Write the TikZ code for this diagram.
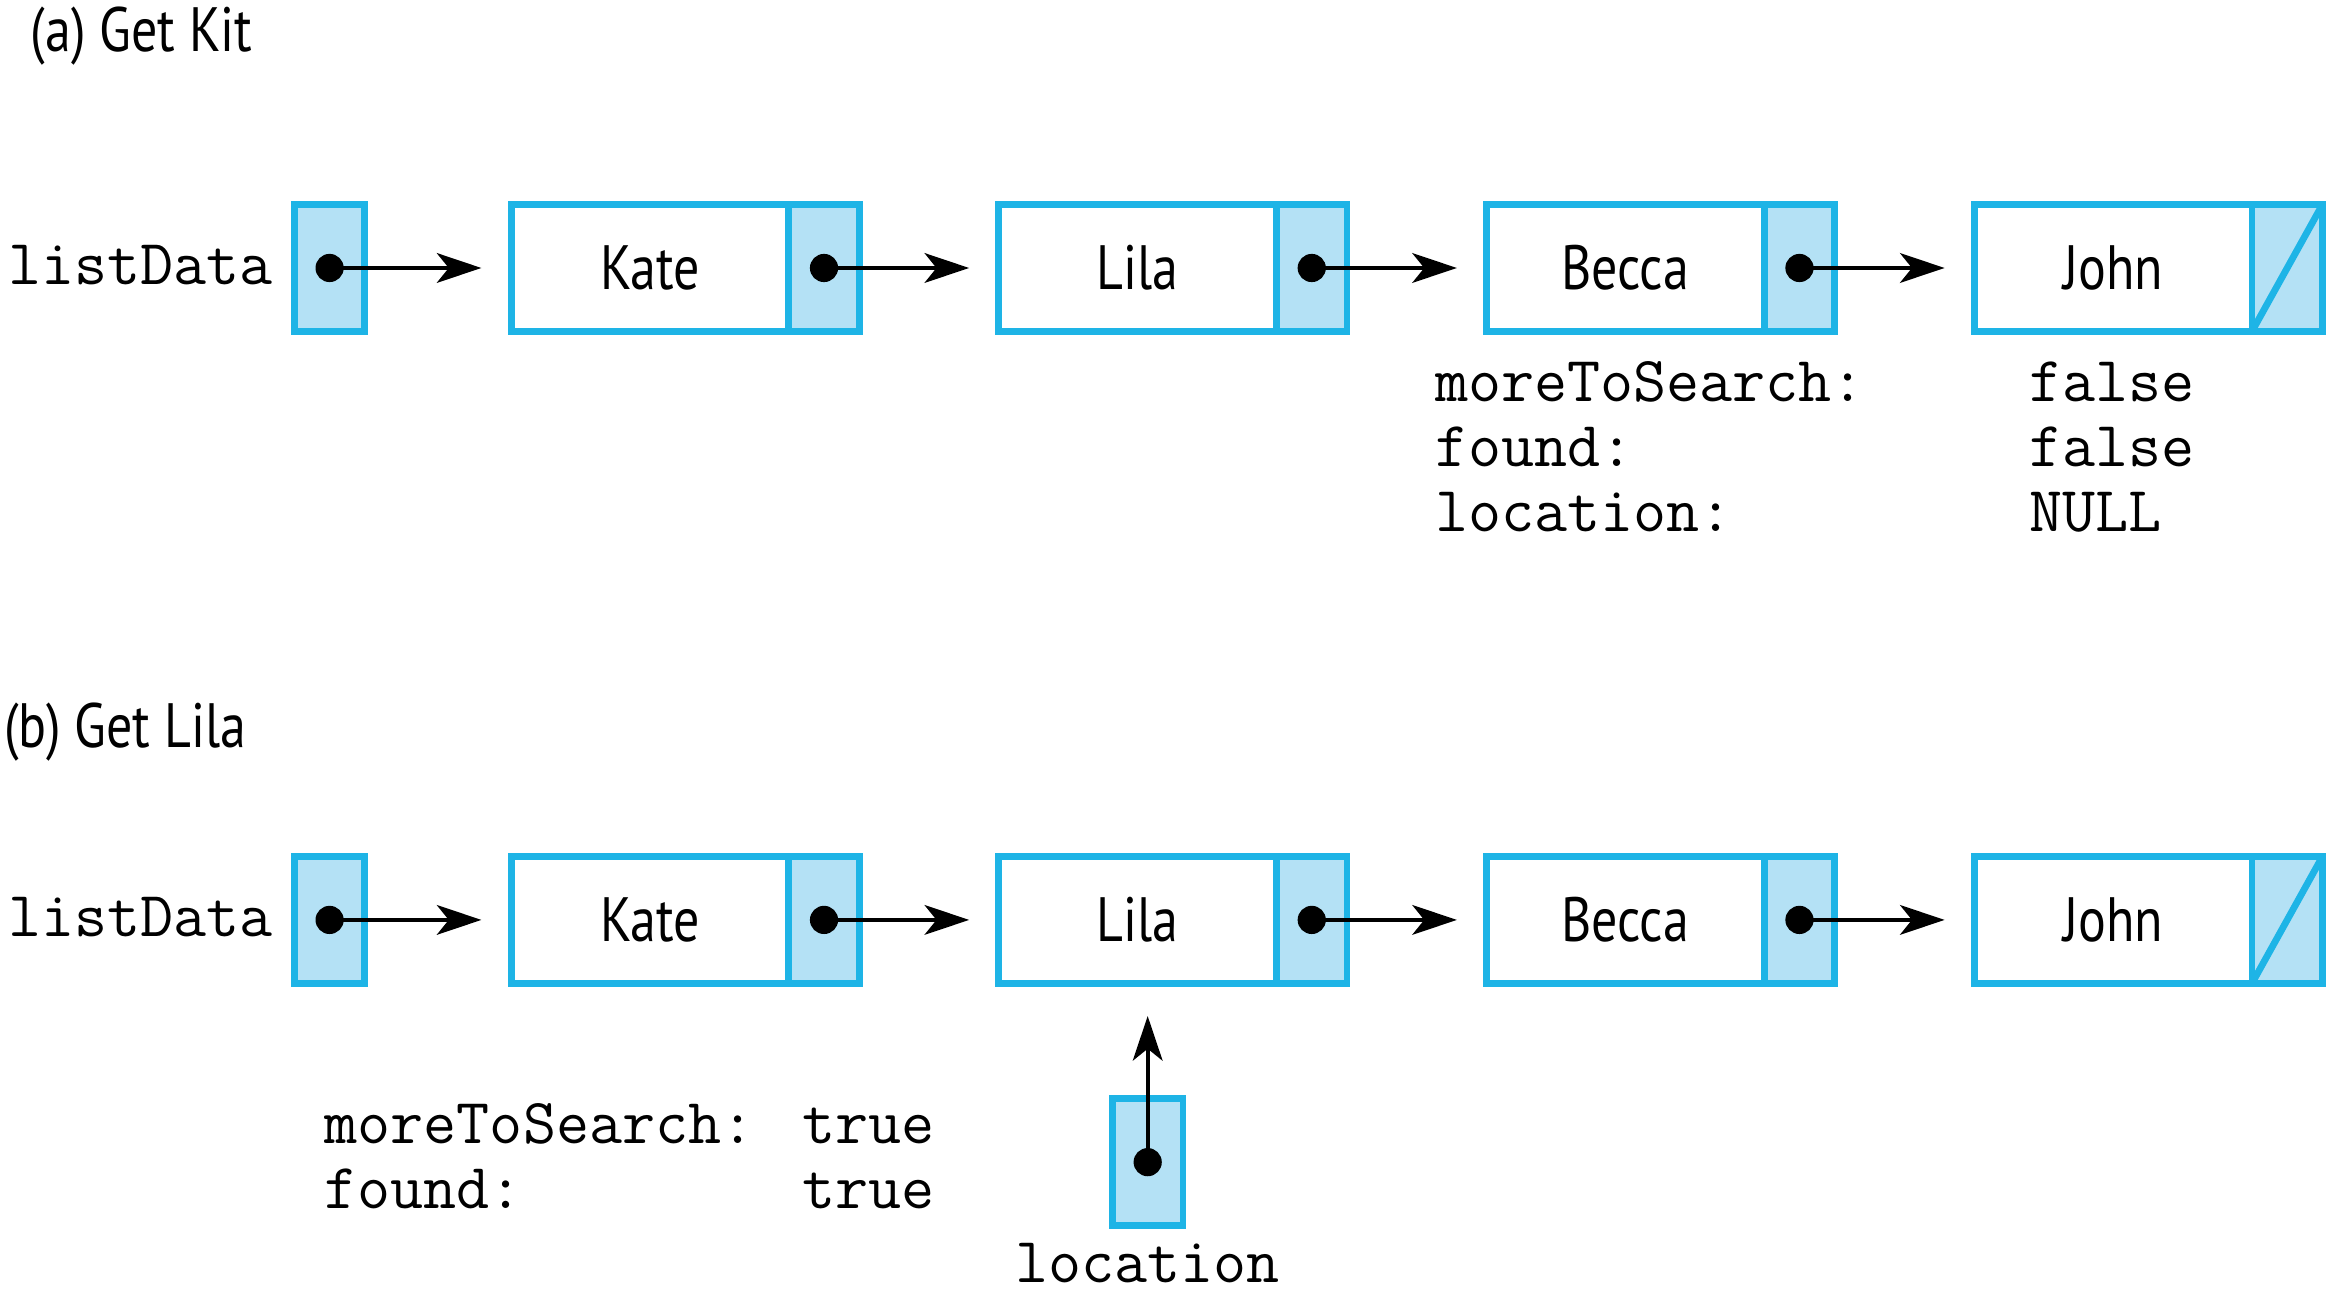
\documentclass[tikz,border=0pt]{standalone}
\usepackage{fontspec}
\setmainfont{PT Sans}[FakeStretch=0.83]
\usepackage{tikz}
\usetikzlibrary{
  positioning,
  calc,
  arrows.meta
}
\definecolor{nodeblue}{RGB}{30,180,230}
\definecolor{ptrfill}{RGB}{180,225,245}
\tikzstyle{datapart}=[draw=nodeblue, line width=1.3pt, fill=white, minimum width=1.87cm, minimum height=0.855cm, inner sep=0pt, outer sep=0pt, font=\fontsize{12}{14}\selectfont]
\tikzstyle{ptrpart}=[datapart, fill=ptrfill, minimum width=0.475cm]
\tikzstyle{ptr}=[-{Stealth[length=3mm, width=2mm, inset=0.8mm]}, line width=0.8pt, shorten >=0.2cm]
\tikzstyle{mono}=[inner sep=0pt, anchor=base west, font=\ttfamily\fontsize{12.3}{14}\selectfont]
\tikzstyle{title}=[inner sep=0pt, anchor=base west, font=\fontsize{12}{14}\selectfont]

\begin{document}
\begin{tikzpicture}
    \useasboundingbox (0,0) rectangle (15.68,8.80);

    % 見出し
    \node[title] (a-title) at (0.20,8.45) {(a) Get Kit};
    \node[title] (b-title) at (0.02,3.764) {(b) Get Lila};

    % リストの描画 (a), (b)
    \foreach \r/\y in {a/6.995, b/2.604} {
      \node[ptrpart] (\r-list-p) at (2.22,\y) {};
      \node[mono, anchor=base east] (\r-list-lbl) at ([xshift=-0.14cm, yshift=-0.11cm]\r-list-p.west) {listData};
      \foreach \n/\t/\x [remember=\n as \prev (initially list)] in {kate/Kate/4.3775, lila/Lila/7.6625, becca/Becca/10.9475, john/John/14.2325} {
        \node[datapart] (\r-\n) at (\x,\y) {\t};
        \node[ptrpart, right=0pt of \r-\n] (\r-\n-p) {};
        % ポインタ
        \fill (\r-\prev-p.center) circle (0.095);
        \draw[ptr] (\r-\prev-p.center) -- (\r-\n.west);
      }
      % NULL
      \draw[draw=nodeblue, line width=1.3pt] (\r-john-p.south west) -- (\r-john-p.north east);
    }

    % 変数の値 (a)
    \foreach \k/\v [count=\i] in {moreToSearch:/false, found:/false, location:/NULL} {
      \node[mono] (a-key\i) at (9.66,{6.096-(\i-1)*0.437}) {\k};
      \node[mono] (a-val\i) at (13.66,{6.096-(\i-1)*0.437}) {\v};
    }

    % 変数の値 (b)
    \foreach \k/\v [count=\i] in {moreToSearch:/true, found:/true} {
      \node[mono] (b-key\i) at (2.18,{1.100-(\i-1)*0.437}) {\k};
      \node[mono] (b-val\i) at (5.40,{1.100-(\i-1)*0.437}) {\v};
    }

    % location
    \node[ptrpart] (b-loc-p) at (7.73,0.9725) {};
    \node[mono, anchor=base] (b-loc-lbl) at (7.73,0.16) {location};
    \fill (b-loc-p.center) circle (0.095);
    \draw[ptr, shorten >=0.22cm] (b-loc-p.center) -- (b-loc-p.center |- b-lila.south);
\end{tikzpicture}
\end{document}
